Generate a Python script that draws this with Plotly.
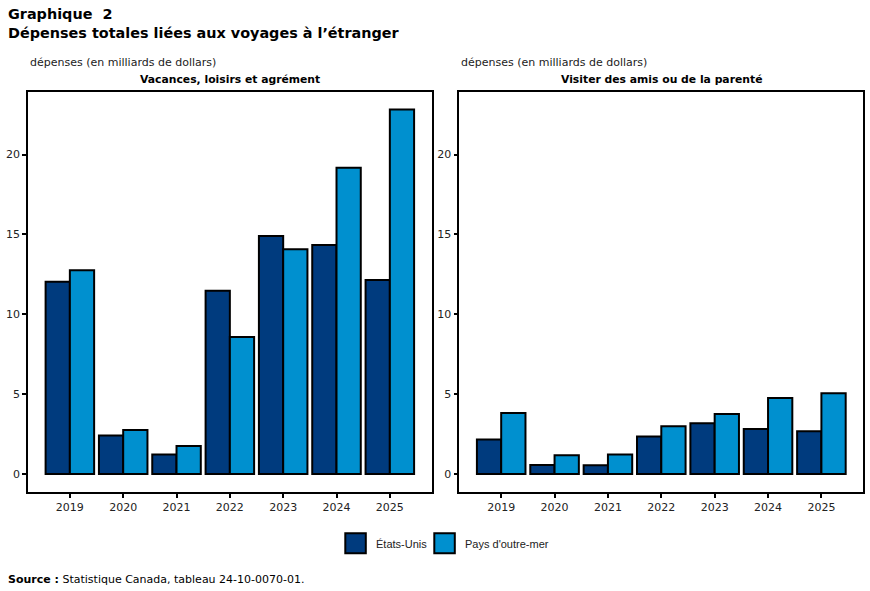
import plotly.graph_objects as go

years = ["2019", "2020", "2021", "2022", "2023", "2024", "2025"]
vac_us = [12.04, 2.40, 1.21, 11.48, 14.90, 14.34, 12.15]
vac_over = [12.76, 2.75, 1.75, 8.58, 14.08, 19.18, 22.82]
vis_us = [2.15, 0.56, 0.54, 2.34, 3.17, 2.82, 2.67]
vis_over = [3.82, 1.17, 1.21, 2.99, 3.76, 4.76, 5.05]
series_names = ["États-Unis", "Pays d'outre-mer"]
panel_titles = ["Vacances, loisirs et agrément", "Visiter des amis ou de la parenté"]
ytick_vals = [0, 5, 10, 15, 20]

W, H = 870, 591
C_US = "#003b7e"
C_OV = "#0090cf"
FONT = "DejaVu Sans"

def px(x):
    return x / W

def py(y):
    return 1 - y / H

fig = go.Figure()
for i, (us, ov) in enumerate([(vac_us, vac_over), (vis_us, vis_over)]):
    xa = "x" if i == 0 else "x2"
    ya = "y" if i == 0 else "y2"
    fig.add_trace(go.Bar(x=years, y=us, name=series_names[0], marker=dict(color=C_US, line=dict(color="black", width=2)),
                         xaxis=xa, yaxis=ya, showlegend=False))
    fig.add_trace(go.Bar(x=years, y=ov, name=series_names[1], marker=dict(color=C_OV, line=dict(color="black", width=2)),
                         xaxis=xa, yaxis=ya, showlegend=False))

top, bot = 91.7, 492.3
yrange = [-1.15, 23.94]
xrange = [-0.785, 6.785]
axis_common = dict(showline=True, mirror=True, linecolor="black", linewidth=1.5, showgrid=False, zeroline=False,
                   ticks="outside", ticklen=4, tickwidth=2, tickcolor="black",
                   tickfont=dict(family=FONT, size=11, color="#222"))
fig.update_layout(
    width=W, height=H, margin=dict(l=0, r=0, t=0, b=0),
    paper_bgcolor="white", plot_bgcolor="white",
    barmode="group", bargap=0.09, bargroupgap=0,
    showlegend=False,
    xaxis=dict(domain=[px(28), px(431.7)], anchor="y", type="category", range=xrange, **axis_common),
    yaxis=dict(domain=[py(bot), py(top)], anchor="x", range=yrange, tickvals=ytick_vals, **axis_common),
    xaxis2=dict(domain=[px(459.3), px(863.3)], anchor="y2", type="category", range=xrange, **axis_common),
    yaxis2=dict(domain=[py(bot), py(top)], anchor="x2", range=yrange, tickvals=ytick_vals, **axis_common),
)

ann = []
ann.append(dict(text="<b>Graphique  2</b>", x=px(6), y=py(14), xanchor="left", yanchor="middle",
                font=dict(family=FONT, size=14.4, color="black")))
ann.append(dict(text="<b>Dépenses totales liées aux voyages à l’étranger</b>", x=px(6), y=py(33), xanchor="left",
                yanchor="middle", font=dict(family=FONT, size=14.4, color="black")))
for xl in [28, 459]:
    ann.append(dict(text="dépenses (en milliards de dollars)", x=px(xl), y=py(62), xanchor="left", yanchor="middle",
                    font=dict(family=FONT, size=11, color="#222")))
for t, xc in zip(panel_titles, [229.8, 661.3]):
    ann.append(dict(text="<b>" + t + "</b>", x=px(xc), y=py(79), xanchor="center", yanchor="middle",
                    font=dict(family=FONT, size=10.8, color="black")))
ann.append(dict(text="<b>Source :</b> Statistique Canada, tableau 24-10-0070-01.", x=px(6), y=py(579),
                xanchor="left", yanchor="middle", font=dict(family=FONT, size=11, color="black")))

shapes = []
for (x0, xt, name, col) in [(344.3, 374, series_names[0], C_US), (433.3, 463.3, series_names[1], C_OV)]:
    shapes.append(dict(type="rect", xref="paper", yref="paper", x0=px(x0 + 1), x1=px(x0 + 21.5),
                       y0=py(553.3), y1=py(533.3), fillcolor=col, line=dict(color="black", width=2)))
    ann.append(dict(text=name, x=px(xt), y=py(543.5), xanchor="left", yanchor="middle",
                    font=dict(family="Liberation Sans", size=11, color="#222")))
for a in ann:
    a.update(xref="paper", yref="paper", showarrow=False)
fig.update_layout(annotations=ann, shapes=shapes)

fig.write_html("out.html")
